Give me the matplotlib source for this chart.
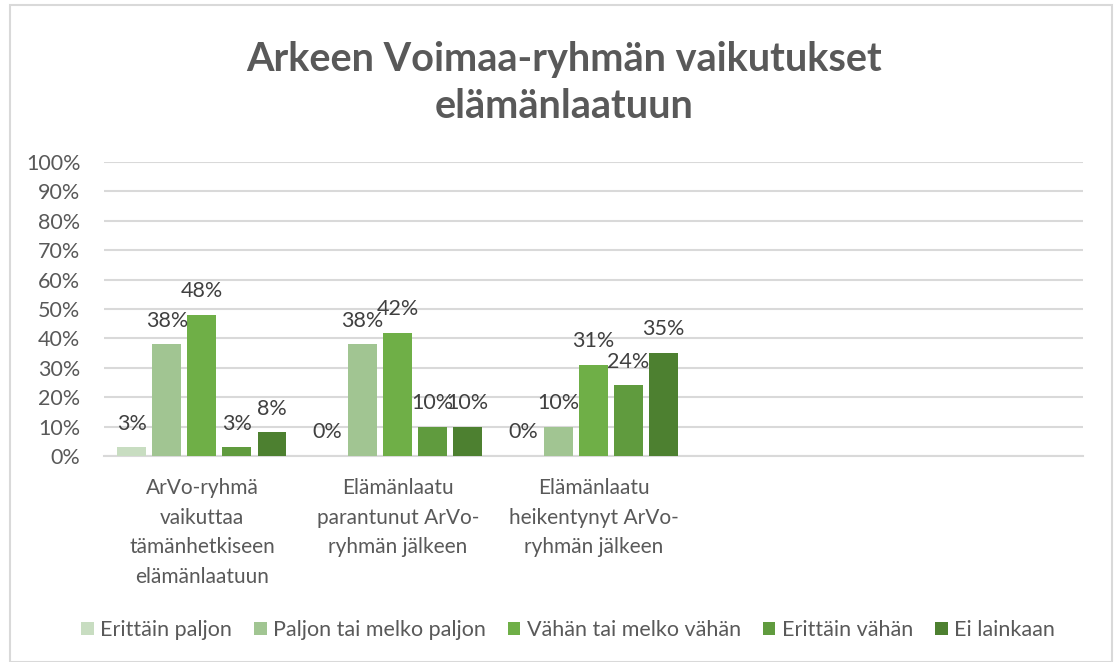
import numpy as np
import matplotlib
matplotlib.use("Agg")
from matplotlib import pyplot as plt
from matplotlib.patches import Rectangle

# data
categories = ["ArVo-ryhmä\nvaikuttaa\ntämänhetkiseen\nelämänlaatuun",
              "Elämänlaatu\nparantunut ArVo-\nryhmän jälkeen",
              "Elämänlaatu\nheikentynyt ArVo-\nryhmän jälkeen",
              "", ""]
series_names = ["Erittäin paljon", "Paljon tai melko paljon", "Vähän tai melko vähän",
                "Erittäin vähän", "Ei lainkaan"]
values = [
    [3, 0, 0],
    [38, 38, 10],
    [48, 42, 31],
    [3, 10, 24],
    [8, 10, 35],
]
colors = ["#c8ddc1", "#a1c592", "#6faf47", "#609b3e", "#4d8030"]
yticks = list(range(0, 101, 10))

plt.rcParams['font.family'] = ['Lato', 'DejaVu Sans']

fig = plt.figure(figsize=(11.18, 6.62), dpi=100)
ax = fig.add_axes([104/1118, 1-456/662, (1083-104)/1118, (456-162)/662])

# chart border
fig.add_artist(Rectangle((10/1118, 0.0), 1102/1118, 1-5/662, transform=fig.transFigure,
                         fill=False, edgecolor="#d9d9d9", linewidth=1.5))

x = np.arange(len(categories))
pitch = 0.179
width = 0.148
for i, (name, vals) in enumerate(zip(series_names, values)):
    xs = x[:len(vals)] + (i - 2) * pitch
    ax.bar(xs, vals, width=width, color=colors[i], label=name, zorder=3)
    for xx, v in zip(xs, vals):
        ax.annotate(f"{v}%", (xx, v), xytext=(0, 17), textcoords="offset points",
                    ha="center", va="center", fontsize=15.5, color="#404040", zorder=4)

ax.set_xlim(-0.5, len(categories) - 0.5)
ax.set_ylim(0, 100)
ax.set_yticks(yticks)
ax.set_yticklabels([f"{t}%" for t in yticks])
ax.set_xticks(x)
ax.set_xticklabels(categories, linespacing=1.6)
ax.tick_params(axis="y", length=0, pad=17, labelsize=15.5, labelcolor="#595959")
ax.tick_params(axis="x", length=0, pad=16, labelsize=15, labelcolor="#595959")
ax.grid(axis="y", color="#d9d9d9", linewidth=1.5, zorder=0)
for s in ["top", "right", "left"]:
    ax.spines[s].set_visible(False)
ax.spines["bottom"].set_color("#d9d9d9")
ax.spines["bottom"].set_linewidth(1.5)

fig.text(0.505, 1-83/662, "Arkeen Voimaa-ryhmän vaikutukset\nelämänlaatuun", ha="center",
         va="center", fontsize=28.5, fontweight="bold", color="#595959", linespacing=1.3)

fig.legend(loc="center", bbox_to_anchor=(0.508, 1-630/662), ncol=5, frameon=False,
           fontsize=15.5, labelcolor="#595959", handlelength=0.6, handleheight=0.6,
           handletextpad=0.3, columnspacing=1.0)

fig.savefig("out.png", dpi=100)
